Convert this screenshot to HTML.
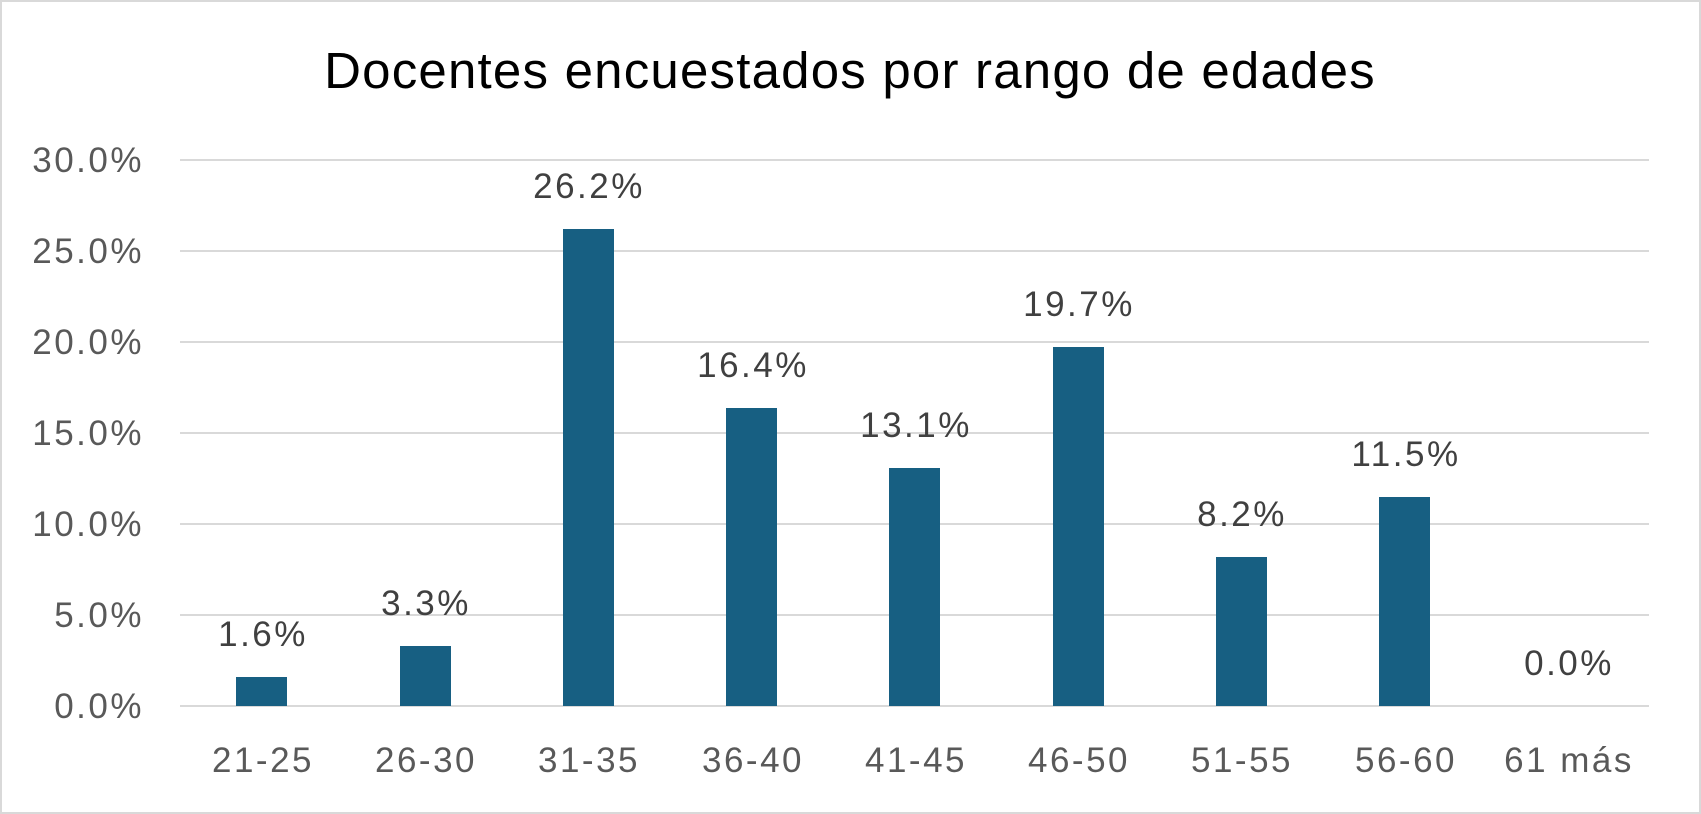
<!DOCTYPE html>
<html><head><meta charset="utf-8"><style>
html,body{margin:0;padding:0;background:#fff}
svg{display:block}
text{font-family:"Liberation Sans",sans-serif}
</style></head><body>
<svg width="1701" height="814" viewBox="0 0 1701 814">
<rect x="1" y="1" width="1699" height="812" fill="#fff" stroke="#d9d9d9" stroke-width="2"/>
<text x="850" y="88" font-size="51" letter-spacing="1.2" fill="#000" text-anchor="middle">Docentes encuestados por rango de edades</text>
<g stroke="#d9d9d9" stroke-width="2">
<line x1="180" x2="1649" y1="160" y2="160"/>
<line x1="180" x2="1649" y1="251" y2="251"/>
<line x1="180" x2="1649" y1="342" y2="342"/>
<line x1="180" x2="1649" y1="433" y2="433"/>
<line x1="180" x2="1649" y1="524" y2="524"/>
<line x1="180" x2="1649" y1="615" y2="615"/>
<line x1="180" x2="1649" y1="706" y2="706"/>
</g>
<g font-size="35" letter-spacing="2.5" fill="#595959" text-anchor="end">
<text x="144" y="172">30.0%</text>
<text x="144" y="263">25.0%</text>
<text x="144" y="354">20.0%</text>
<text x="144" y="445">15.0%</text>
<text x="144" y="536">10.0%</text>
<text x="144" y="627">5.0%</text>
<text x="144" y="718">0.0%</text>
</g>
<g fill="#175f82">
<rect x="236" y="677" width="51" height="29"/>
<rect x="400" y="646" width="51" height="60"/>
<rect x="563" y="229" width="51" height="477"/>
<rect x="726" y="408" width="51" height="298"/>
<rect x="889" y="468" width="51" height="238"/>
<rect x="1053" y="347" width="51" height="359"/>
<rect x="1216" y="557" width="51" height="149"/>
<rect x="1379" y="497" width="51" height="209"/>
</g>
<g font-size="35" letter-spacing="2.5" fill="#404040" text-anchor="middle">
<text x="263" y="646">1.6%</text>
<text x="426" y="615">3.3%</text>
<text x="589" y="198">26.2%</text>
<text x="753" y="377">16.4%</text>
<text x="916" y="437">13.1%</text>
<text x="1079" y="316">19.7%</text>
<text x="1242" y="526">8.2%</text>
<text x="1406" y="466">11.5%</text>
<text x="1569" y="675">0.0%</text>
</g>
<g font-size="35" letter-spacing="2.5" fill="#595959" text-anchor="middle">
<text x="263" y="772">21-25</text>
<text x="426" y="772">26-30</text>
<text x="589" y="772">31-35</text>
<text x="753" y="772">36-40</text>
<text x="916" y="772">41-45</text>
<text x="1079" y="772">46-50</text>
<text x="1242" y="772">51-55</text>
<text x="1406" y="772">56-60</text>
<text x="1569" y="772">61 más</text>
</g>
</svg>
</body></html>
